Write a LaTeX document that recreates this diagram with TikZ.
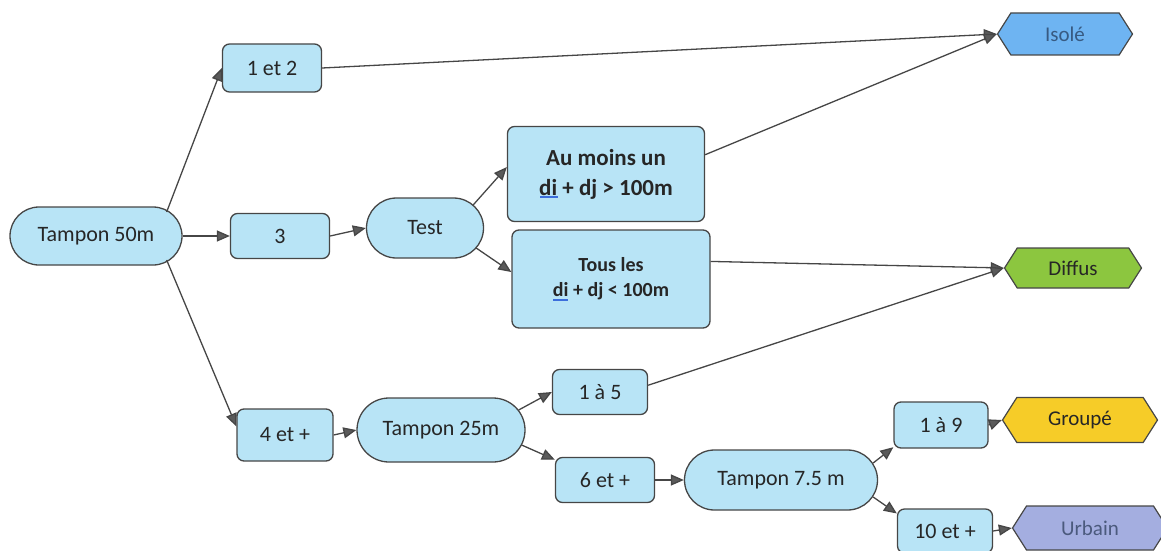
\documentclass[tikz,border=0pt]{standalone}
\usepackage{fontspec}
\setmainfont{Carlito}
\usetikzlibrary{shapes.misc,shapes.symbols,arrows.meta}
\definecolor{boxfill}{RGB}{184,228,246}
\definecolor{isofill}{RGB}{110,180,242}
\definecolor{diffill}{RGB}{140,198,63}
\definecolor{grpfill}{RGB}{246,204,40}
\definecolor{urbfill}{RGB}{164,174,224}
\definecolor{isotext}{RGB}{55,90,130}
\definecolor{urbtext}{RGB}{75,90,125}
\definecolor{linecol}{RGB}{70,70,70}
\definecolor{tipcol}{RGB}{90,90,90}
\definecolor{spell}{RGB}{60,110,220}
\begin{document}
\begin{tikzpicture}[x=1pt,y=-1pt,
  base/.style={draw=linecol, line width=1.3pt, fill=boxfill, inner sep=0pt, text=black!85, font=\fontsize{22}{26}\selectfont},
  box/.style={base, rectangle, rounded corners=7pt},
  pill/.style={base, rounded rectangle},
  hex/.style={signal, signal to=west and east, signal pointer angle=115, draw=linecol, line width=1.2pt, inner sep=0pt, font=\fontsize{21}{24}\selectfont},
  arr/.style={draw=linecol, line width=1.3pt, -{Triangle[length=13pt,width=11pt,fill=tipcol]}},
  boldA/.style={font=\fontsize{23}{30}\selectfont\bfseries, align=center},
  boldB/.style={font=\fontsize{20}{25}\selectfont\bfseries, align=center},
  spellmark/.style={spell, line width=1.3pt}
]
\useasboundingbox (0,0) rectangle (1161,551);

\node[pill, minimum width=172pt, minimum height=58pt] (t50) at (96,236) {Tampon 50m};
\node[box, minimum width=99pt, minimum height=48pt] (n12) at (272,68) {1 et 2};
\node[box, minimum width=99pt, minimum height=45pt] (n3) at (280,236) {3};
\node[pill, minimum width=117pt, minimum height=60pt] (test) at (425,228) {Test};
\node[box, boldA, minimum width=197pt, minimum height=95pt] (am) at (606,174) {Au moins un\\di + dj > 100m};
\node[box, boldB, minimum width=198pt, minimum height=98pt] (tl) at (611,279) {Tous les\\di + dj < 100m};
\node[box, minimum width=96pt, minimum height=52pt] (n4) at (285,435) {4 et +};
\node[pill, minimum width=168pt, minimum height=64pt] (t25) at (441,430) {Tampon 25m};
\node[box, minimum width=95pt, minimum height=45pt] (n15) at (600,392) {1 à 5};
\node[box, minimum width=99pt, minimum height=45pt] (n6) at (605,480) {6 et +};
\node[pill, minimum width=193pt, minimum height=60pt] (t75) at (781,480) {Tampon 7.5 m};
\node[box, minimum width=94pt, minimum height=46pt] (n19) at (941,425) {1 à 9};
\node[box, minimum width=95pt, minimum height=44pt] (n10) at (945,531) {10 et +};

\node[hex, fill=isofill, text=isotext, minimum width=135pt, minimum height=42pt] (iso) at (1065,34) {Isolé};
\node[hex, fill=diffill, text=black!85, minimum width=137pt, minimum height=40pt] (dif) at (1073,268) {Diffus};
\node[hex, fill=grpfill, text=black!85, minimum width=155pt, minimum height=45pt] (grp) at (1080,420) {Groupé};
\node[hex, fill=urbfill, text=urbtext, minimum width=155pt, minimum height=44pt] (urb) at (1090,528) {Urbain};

% spell-check underlines under "di"
\draw[spellmark] ([xshift=-66pt,yshift=-23pt]am.center) -- ++(18,0);
\draw[spellmark] ([xshift=-58pt,yshift=-21pt]tl.center) -- ++(15,0);

\draw[arr] ([xshift=-16pt,yshift=24pt]t50.east) -- (n12.west);
\draw[arr] (t50.east) -- (n3.west);
\draw[arr] ([xshift=-16pt,yshift=-24pt]t50.east) -- (n4.170);
\draw[arr] (n12.east) -- (iso.west);
\draw[arr] (n3.east) -- (test.west);
\draw[arr] ([xshift=-11pt,yshift=23pt]test.east) -- (am.176);
\draw[arr] ([xshift=-8pt,yshift=-20pt]test.east) -- (tl.176);
\draw[arr] (am.11) -- (iso.west);
\draw[arr] (tl.10) -- (dif.west);
\draw[arr] (n15.8) -- (dif.west);
\draw[arr] (n4.east) -- (t25.west);
\draw[arr] ([xshift=-7pt,yshift=20pt]t25.east) -- (n15.west);
\draw[arr] ([xshift=-4pt,yshift=-15pt]t25.east) -- (n6.158);
\draw[arr] (n6.east) -- (t75.west);
\draw[arr] ([xshift=-5pt,yshift=17pt]t75.east) -- (n19.205);
\draw[arr] ([xshift=-5pt,yshift=-17pt]t75.east) -- (n10.160);
\draw[arr] (n19.east) -- (grp.west);
\draw[arr] (n10.east) -- (urb.west);
\end{tikzpicture}
\end{document}
